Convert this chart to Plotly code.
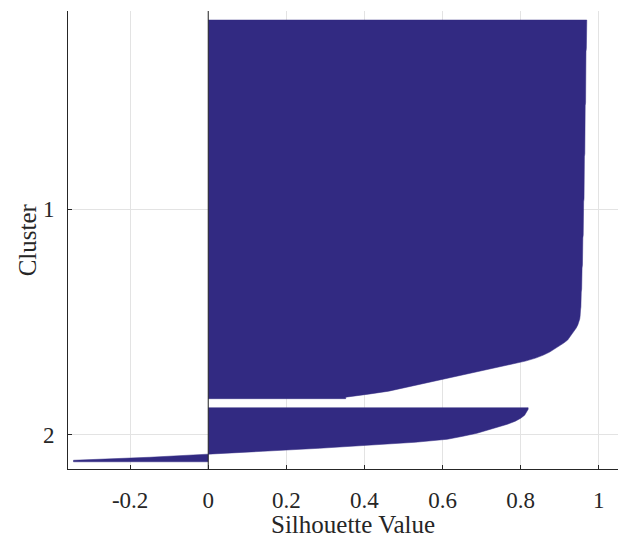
import plotly.graph_objects as go

# Sorted silhouette values (one per observation), highest first, per cluster
cluster1_sil = [
    0.969, 0.969, 0.969, 0.969, 0.968, 0.968, 0.968, 0.968, 0.968, 0.968,
    0.967, 0.967, 0.967, 0.967, 0.967, 0.967, 0.967, 0.967, 0.966, 0.966,
    0.966, 0.966, 0.966, 0.966, 0.966, 0.966, 0.966, 0.966, 0.965, 0.965,
    0.965, 0.965, 0.965, 0.965, 0.965, 0.965, 0.964, 0.964, 0.964, 0.964,
    0.964, 0.964, 0.964, 0.964, 0.964, 0.963, 0.963, 0.963, 0.963, 0.963,
    0.963, 0.963, 0.963, 0.962, 0.962, 0.962, 0.962, 0.962, 0.962, 0.962,
    0.961, 0.961, 0.961, 0.961, 0.961, 0.961, 0.960, 0.960, 0.960, 0.960,
    0.960, 0.960, 0.959, 0.959, 0.959, 0.959, 0.959, 0.958, 0.958, 0.958,
    0.958, 0.958, 0.957, 0.957, 0.957, 0.957, 0.956, 0.956, 0.956, 0.956,
    0.955, 0.955, 0.955, 0.954, 0.954, 0.954, 0.953, 0.953, 0.952, 0.951,
    0.949, 0.946, 0.942, 0.937, 0.932, 0.927, 0.920, 0.910, 0.899, 0.887,
    0.874, 0.858, 0.838, 0.812, 0.777, 0.742, 0.710, 0.680, 0.645, 0.605,
    0.572, 0.540, 0.505, 0.462, 0.410, 0.352,
]
cluster2_sil = [
    0.819, 0.815, 0.810, 0.800, 0.786, 0.766, 0.742, 0.716, 0.688, 0.652,
    0.612, 0.530, 0.420, 0.285, 0.140, -0.010, -0.150, -0.345,
]
cluster_names = ["1", "2"]
x_tick_vals = [-0.2, 0, 0.2, 0.4, 0.6, 0.8, 1]
x_tick_text = ["-0.2", "0", "0.2", "0.4", "0.6", "0.8", "1"]

BAR = "#322a82"
INK = "#262626"
GRID = "#e3e3e3"
FONT = "Liberation Serif, Times New Roman, serif"
GAP = 3  # empty rows between clusters

fig = go.Figure()
row = 1
centres = []
for vals in (cluster1_sil, cluster2_sil):
    idx = list(range(row, row + len(vals)))
    top, bottom = idx[0] - 0.5, idx[-1] + 0.5
    xs = [0, vals[0]] + vals + [vals[-1], 0]
    ys = [top, top] + idx + [bottom, bottom]
    fig.add_trace(go.Scatter(
        x=xs, y=ys, mode="lines", fill="toself", fillcolor=BAR,
        line=dict(color=BAR, width=0.5), hoverinfo="skip", showlegend=False,
    ))
    centres.append((idx[0] + idx[-1]) / 2)
    row = idx[-1] + 1 + GAP
last_row = row - GAP - 1

fig.update_layout(
    width=624, height=539,
    margin=dict(l=68, r=6, t=11, b=70),
    paper_bgcolor="white", plot_bgcolor="white",
    font=dict(family=FONT, color=INK, size=23),
    xaxis=dict(
        range=[-0.359, 1.049],
        tickvals=x_tick_vals, ticktext=x_tick_text,
        showgrid=True, gridcolor=GRID, gridwidth=1,
        zeroline=False,
        showline=True, linecolor=INK, linewidth=1,
        ticks="inside", ticklen=4, tickcolor=INK, tickwidth=1,
        tickfont=dict(family=FONT, size=23, color=INK),
        ticklabelstandoff=10,
    ),
    yaxis=dict(
        range=[last_row + 2.9, -2.5],
        tickvals=centres, ticktext=cluster_names,
        showgrid=True, gridcolor=GRID, gridwidth=1,
        zeroline=False,
        showline=True, linecolor=INK, linewidth=1,
        ticks="inside", ticklen=4, tickcolor=INK, tickwidth=1,
        tickfont=dict(family=FONT, size=23, color=INK),
        ticklabelstandoff=8,
    ),
    shapes=[dict(
        type="line", xref="x", yref="paper", x0=0, x1=0, y0=0, y1=1,
        line=dict(color=INK, width=1), layer="above",
    )],
    annotations=[
        dict(text="Silhouette Value", xref="paper", yref="paper",
             x=0.518, y=-0.122, xanchor="center", yanchor="middle",
             showarrow=False, font=dict(family=FONT, size=25, color=INK)),
        dict(text="Cluster", xref="paper", yref="paper",
             x=-0.074, y=0.5, xanchor="center", yanchor="middle",
             textangle=-90, showarrow=False,
             font=dict(family=FONT, size=25, color=INK)),
    ],
)

fig.write_html("out.html")
